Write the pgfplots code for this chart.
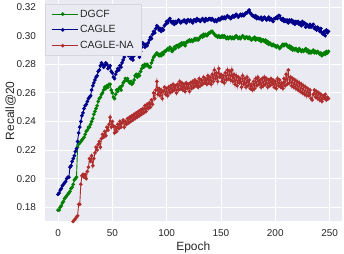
\documentclass[border=0pt]{standalone}
\usepackage{pgfplots}
\usepackage{pgfplotstable}
\pgfplotsset{compat=1.18}
\usepackage{fontspec}
\setmainfont{Liberation Sans}
\definecolor{bgc}{HTML}{EAEAF2}
\definecolor{txt}{HTML}{262626}
\definecolor{cg}{HTML}{008000}
\definecolor{cb}{HTML}{00008B}
\definecolor{cr}{RGB}{175,45,45}
\definecolor{legframe}{HTML}{D6D6DE}

% CAGLE
\pgfplotstableread[row sep=\\]{y\\
0.189\\0.190\\0.192\\0.193\\0.195\\0.196\\0.197\\0.198\\0.200\\0.201\\
0.201\\0.208\\0.209\\0.212\\0.214\\0.216\\0.219\\0.221\\0.226\\0.232\\
0.236\\0.240\\0.244\\0.246\\0.249\\0.251\\0.252\\0.254\\0.256\\0.257\\
0.258\\0.262\\0.265\\0.267\\0.269\\0.271\\0.272\\0.275\\0.276\\0.279\\
0.281\\0.280\\0.278\\0.279\\0.281\\0.280\\0.277\\0.278\\0.279\\0.275\\
0.274\\0.271\\0.270\\0.273\\0.275\\0.277\\0.276\\0.279\\0.278\\0.281\\
0.283\\0.285\\0.288\\0.290\\0.288\\0.286\\0.287\\0.284\\0.285\\0.283\\
0.286\\0.288\\0.290\\0.288\\0.287\\0.285\\0.289\\0.292\\0.295\\0.294\\
0.292\\0.294\\0.293\\0.295\\0.297\\0.299\\0.298\\0.301\\0.303\\0.302\\
0.305\\0.307\\0.306\\0.304\\0.305\\0.303\\0.305\\0.304\\0.307\\0.308\\
0.310\\0.309\\0.311\\0.312\\0.310\\0.309\\0.310\\0.308\\0.310\\0.309\\
0.310\\0.311\\0.310\\0.309\\0.310\\0.310\\0.311\\0.310\\0.309\\0.311\\
0.311\\0.310\\0.311\\0.310\\0.309\\0.311\\0.311\\0.310\\0.312\\0.311\\
0.311\\0.310\\0.311\\0.312\\0.311\\0.310\\0.312\\0.311\\0.311\\0.312\\
0.312\\0.311\\0.312\\0.311\\0.310\\0.311\\0.310\\0.311\\0.312\\0.311\\
0.312\\0.313\\0.312\\0.313\\0.312\\0.313\\0.314\\0.313\\0.313\\0.312\\
0.313\\0.314\\0.313\\0.314\\0.315\\0.314\\0.313\\0.314\\0.315\\0.314\\
0.315\\0.314\\0.315\\0.316\\0.316\\0.317\\0.318\\0.316\\0.315\\0.314\\
0.314\\0.313\\0.314\\0.312\\0.313\\0.312\\0.312\\0.313\\0.311\\0.312\\
0.313\\0.312\\0.311\\0.312\\0.313\\0.311\\0.312\\0.311\\0.310\\0.312\\
0.312\\0.313\\0.312\\0.314\\0.314\\0.312\\0.311\\0.312\\0.310\\0.311\\
0.310\\0.311\\0.309\\0.311\\0.310\\0.311\\0.309\\0.310\\0.308\\0.310\\
0.309\\0.310\\0.308\\0.309\\0.307\\0.310\\0.308\\0.309\\0.306\\0.308\\
0.307\\0.306\\0.308\\0.306\\0.307\\0.308\\0.305\\0.306\\0.304\\0.306\\
0.305\\0.303\\0.305\\0.302\\0.301\\0.303\\0.300\\0.304\\0.302\\0.303\\
}\tblue

% DGCF
\pgfplotstableread[row sep=\\]{y\\
0.178\\0.178\\0.180\\0.181\\0.183\\0.184\\0.186\\0.187\\0.188\\0.189\\
0.190\\0.191\\0.193\\0.194\\0.196\\0.199\\0.200\\0.201\\0.222\\0.224\\
0.225\\0.226\\0.227\\0.228\\0.229\\0.231\\0.233\\0.234\\0.236\\0.236\\
0.238\\0.240\\0.242\\0.245\\0.247\\0.249\\0.251\\0.254\\0.256\\0.257\\
0.259\\0.260\\0.262\\0.264\\0.263\\0.265\\0.264\\0.266\\0.266\\0.262\\
0.260\\0.257\\0.256\\0.259\\0.262\\0.261\\0.263\\0.264\\0.262\\0.265\\
0.267\\0.268\\0.270\\0.269\\0.270\\0.268\\0.267\\0.268\\0.266\\0.267\\
0.269\\0.272\\0.273\\0.271\\0.273\\0.272\\0.275\\0.277\\0.279\\0.278\\
0.280\\0.279\\0.280\\0.279\\0.278\\0.278\\0.281\\0.283\\0.285\\0.286\\
0.287\\0.288\\0.287\\0.286\\0.287\\0.286\\0.288\\0.287\\0.289\\0.289\\
0.290\\0.291\\0.290\\0.292\\0.291\\0.289\\0.290\\0.292\\0.291\\0.293\\
0.293\\0.292\\0.294\\0.293\\0.295\\0.294\\0.295\\0.293\\0.295\\0.296\\
0.296\\0.297\\0.296\\0.297\\0.296\\0.297\\0.298\\0.297\\0.298\\0.297\\
0.298\\0.299\\0.300\\0.299\\0.301\\0.300\\0.301\\0.300\\0.301\\0.302\\
0.302\\0.303\\0.303\\0.302\\0.301\\0.300\\0.300\\0.299\\0.300\\0.299\\
0.299\\0.300\\0.299\\0.300\\0.299\\0.298\\0.299\\0.298\\0.299\\0.299\\
0.298\\0.299\\0.298\\0.299\\0.300\\0.299\\0.298\\0.299\\0.298\\0.299\\
0.300\\0.299\\0.298\\0.299\\0.299\\0.298\\0.299\\0.298\\0.297\\0.298\\
0.298\\0.299\\0.297\\0.298\\0.298\\0.297\\0.298\\0.296\\0.297\\0.297\\
0.296\\0.297\\0.295\\0.296\\0.294\\0.295\\0.294\\0.293\\0.294\\0.293\\
0.293\\0.292\\0.293\\0.292\\0.291\\0.292\\0.293\\0.294\\0.293\\0.294\\
0.294\\0.293\\0.292\\0.293\\0.291\\0.292\\0.290\\0.291\\0.290\\0.291\\
0.290\\0.289\\0.291\\0.290\\0.289\\0.290\\0.289\\0.290\\0.291\\0.289\\
0.290\\0.288\\0.289\\0.288\\0.289\\0.290\\0.288\\0.289\\0.288\\0.289\\
0.288\\0.287\\0.288\\0.286\\0.287\\0.288\\0.287\\0.289\\0.288\\0.289\\
}\tgreen

% CAGLE-NA
\pgfplotstableread[row sep=\\]{y\\
0.140\\0.142\\0.145\\0.147\\0.150\\0.152\\0.155\\0.157\\0.159\\0.161\\
0.163\\0.165\\0.166\\0.168\\0.170\\0.171\\0.172\\0.173\\0.174\\0.182\\
0.182\\0.196\\0.202\\0.203\\0.201\\0.203\\0.200\\0.205\\0.208\\0.214\\
0.212\\0.216\\0.209\\0.214\\0.218\\0.222\\0.220\\0.224\\0.226\\0.222\\
0.228\\0.231\\0.229\\0.233\\0.230\\0.236\\0.234\\0.238\\0.243\\0.236\\
0.240\\0.237\\0.232\\0.236\\0.233\\0.238\\0.235\\0.240\\0.236\\0.239\\
0.241\\0.236\\0.240\\0.238\\0.242\\0.239\\0.243\\0.240\\0.244\\0.241\\
0.245\\0.242\\0.246\\0.243\\0.247\\0.244\\0.248\\0.245\\0.249\\0.246\\
0.251\\0.247\\0.252\\0.249\\0.253\\0.250\\0.255\\0.252\\0.260\\0.256\\
0.262\\0.268\\0.259\\0.263\\0.258\\0.262\\0.256\\0.261\\0.264\\0.259\\
0.263\\0.258\\0.264\\0.260\\0.265\\0.261\\0.266\\0.262\\0.265\\0.260\\
0.266\\0.262\\0.268\\0.263\\0.267\\0.262\\0.266\\0.261\\0.267\\0.263\\
0.266\\0.261\\0.267\\0.263\\0.268\\0.264\\0.269\\0.265\\0.268\\0.264\\
0.270\\0.265\\0.269\\0.266\\0.271\\0.267\\0.270\\0.266\\0.272\\0.267\\
0.271\\0.266\\0.273\\0.268\\0.276\\0.270\\0.274\\0.268\\0.277\\0.271\\
0.273\\0.268\\0.272\\0.267\\0.274\\0.269\\0.276\\0.270\\0.275\\0.269\\
0.276\\0.268\\0.273\\0.266\\0.272\\0.265\\0.271\\0.267\\0.270\\0.264\\
0.272\\0.266\\0.270\\0.264\\0.271\\0.265\\0.269\\0.263\\0.266\\0.262\\
0.268\\0.263\\0.270\\0.265\\0.271\\0.266\\0.269\\0.264\\0.270\\0.265\\
0.271\\0.266\\0.270\\0.264\\0.269\\0.265\\0.270\\0.266\\0.269\\0.264\\
0.268\\0.263\\0.270\\0.265\\0.269\\0.264\\0.267\\0.263\\0.270\\0.265\\
0.273\\0.266\\0.276\\0.267\\0.271\\0.265\\0.270\\0.264\\0.269\\0.263\\
0.268\\0.262\\0.267\\0.261\\0.266\\0.260\\0.265\\0.259\\0.264\\0.258\\
0.263\\0.258\\0.262\\0.256\\0.255\\0.259\\0.262\\0.257\\0.261\\0.256\\
0.260\\0.255\\0.259\\0.254\\0.258\\0.256\\0.259\\0.255\\0.257\\0.256\\
}\tred

\begin{document}
\begin{tikzpicture}
\begin{axis}[
  scale only axis,
  width=297.5bp, height=221.5bp,
  xmin=-12.45, xmax=261.45, ymin=0.17, ymax=0.325,
  axis background/.style={fill=bgc},
  axis line style={draw=none},
  grid=major,
  grid style={white, line width=0.9bp},
  major tick length=0pt,
  xtick={0,50,100,150,200,250},
  ytick={0.18,0.20,0.22,0.24,0.26,0.28,0.30,0.32},
  yticklabel style={/pgf/number format/fixed, /pgf/number format/fixed zerofill, /pgf/number format/precision=2, xshift=-5bp},
  /pgf/number format/assume math mode=true,
  ticklabel style={font=\fontsize{10}{12}\selectfont, text=txt},
  xticklabel style={yshift=-5bp},
  xlabel={Epoch}, ylabel={Recall@20},
  label style={font=\fontsize{12}{14}\selectfont, text=txt},
  xlabel style={at={(axis description cs:0.5,0)}, anchor=north, yshift=-17bp},
  ylabel style={at={(axis description cs:-0.0847,0.5)}, anchor=south},
  legend cell align=left,
  legend image code/.code={%
    \draw[mark repeat=2,mark phase=2] plot coordinates {(0bp,0bp) (11bp,0bp) (22bp,0bp)};
    \path (0bp,0bp) -- (26bp,0bp);},
  legend style={at={(axis description cs:0.0017,0.982)}, anchor=north west,
    fill=bgc, draw=legframe, line width=0.5bp, text=txt,
    font=\fontsize{10.5}{12}\selectfont, inner xsep=6bp, inner ysep=3.5bp,
    row sep=3bp},
  every axis plot/.append style={line width=0.9bp, mark=*, mark size=1.35bp},
]
\addplot[color=cg, mark options={fill=cg}] table[x expr=\coordindex, y=y] {\tgreen};
\addlegendentry{DGCF}
\addplot[color=cb, mark options={fill=cb}] table[x expr=\coordindex, y=y] {\tblue};
\addlegendentry{CAGLE}
\addplot[color=cr, mark options={fill=cr}] table[x expr=\coordindex, y=y] {\tred};
\addlegendentry{CAGLE-NA}
\end{axis}
\pgfresetboundingbox
\path[use as bounding box] (-44.5bp,-32.5bp) rectangle (299.5bp,221.5bp);
\end{tikzpicture}
\end{document}
